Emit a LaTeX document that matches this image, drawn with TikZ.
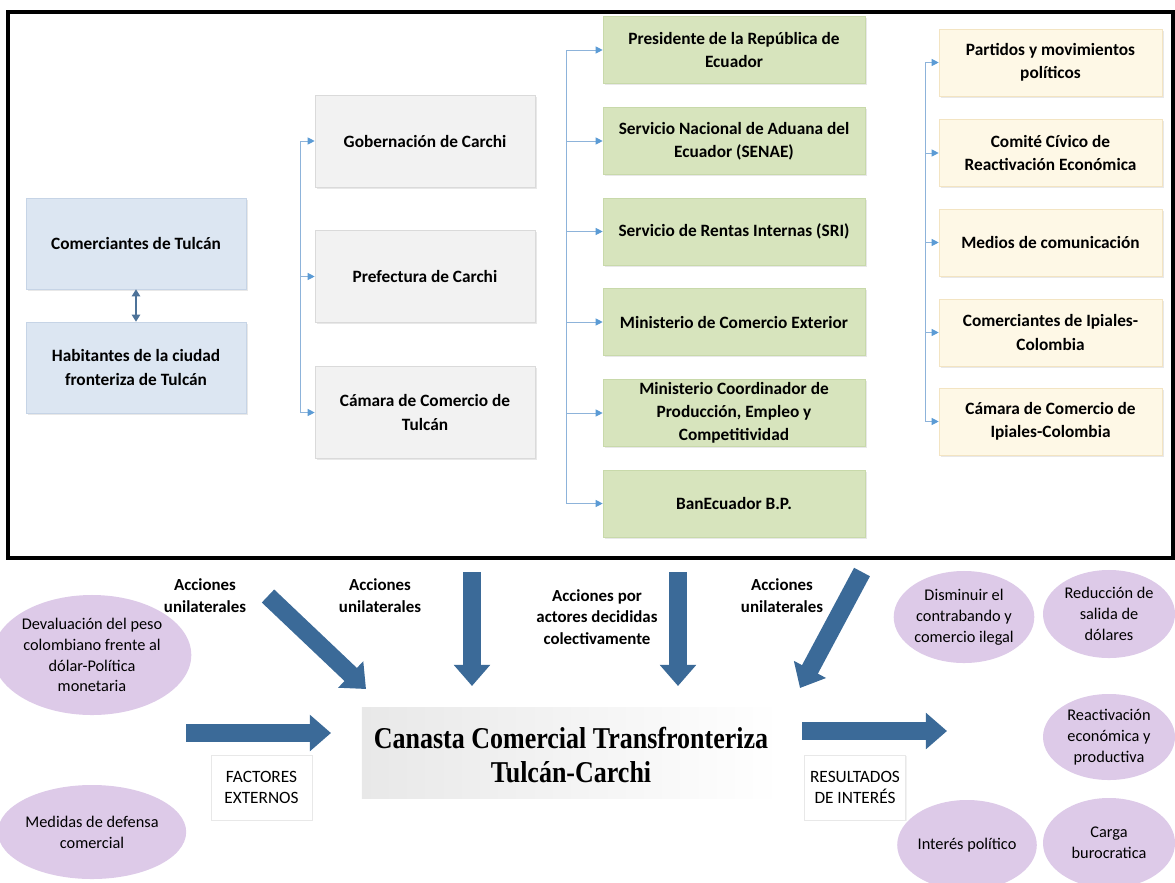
\documentclass[tikz,border=0pt]{standalone}
\usepackage{fontspec}
\setmainfont{Carlito}
\newfontfamily\titulofont[FakeStretch=0.86]{Liberation Serif}
\usepackage{tikz}
\usetikzlibrary{arrows.meta,shapes.geometric,shadows}

\definecolor{azulcaja}{HTML}{DCE6F2}
\definecolor{azulborde}{HTML}{C6D4E6}
\definecolor{griscaja}{HTML}{F2F2F2}
\definecolor{grisborde}{HTML}{DADADA}
\definecolor{verdecaja}{HTML}{D7E4BD}
\definecolor{verdeborde}{HTML}{C8D9AA}
\definecolor{amacaja}{HTML}{FEF8E6}
\definecolor{amaborde}{HTML}{F3E4C2}
\definecolor{lila}{HTML}{DDCAE8}
\definecolor{flechaazul}{HTML}{3B6A98}
\definecolor{lineaazul}{HTML}{8DB3DA}
\definecolor{puntaazul}{HTML}{5B9BD5}
\definecolor{dobleazul}{HTML}{4E7399}

\tikzset{
	caja/.style={draw, align=center, inner sep=0pt, font=\fontsize{12.3}{16.5}\selectfont\bfseries,
		drop shadow={shadow xshift=1.2pt, shadow yshift=-1.2pt, opacity=0.18}},
	cajaazul/.style={caja, fill=azulcaja, draw=azulborde, minimum width=5.5cm, minimum height=2.275cm},
	cajagris/.style={caja, fill=griscaja, draw=grisborde, minimum width=5.5cm, minimum height=2.3cm},
	cajaverde/.style={caja, fill=verdecaja, draw=verdeborde, minimum width=6.55cm, minimum height=1.675cm},
	cajaama/.style={caja, fill=amacaja, draw=amaborde, minimum width=5.575cm, minimum height=1.675cm},
	elip/.style={ellipse, fill=lila, align=center, inner sep=0pt, font=\fontsize{11.6}{14.8}\selectfont},
	etiqueta/.style={align=center, font=\fontsize{12}{15.5}\selectfont\bfseries},
	marcador/.style={draw=gray!18, fill=white, align=center, inner sep=0pt, minimum width=2.525cm, minimum height=1.625cm,
		font=\fontsize{12.3}{14.4}\selectfont, drop shadow={shadow xshift=1pt, shadow yshift=-1pt, opacity=0.1}},
	conector/.style={draw=lineaazul, line width=0.7pt},
	punta/.style={conector, -{Triangle[length=5pt, width=5pt, color=puntaazul]}},
	doble/.style={draw=dobleazul, line width=0.8pt, {Triangle[length=5pt, width=6pt]}-{Triangle[length=5pt, width=6pt]}},
	flecha/.style={draw=flechaazul, line width=12.8pt, -{Triangle[length=15pt, width=25pt]}},
}

\begin{document}
\begin{tikzpicture}[x=0.025cm, y=-0.025cm]
	\useasboundingbox (0,0) rectangle (1175,882);
	\draw[line width=2.2pt] (8,12) rectangle (1173,558);

	% actores locales
	\draw (136,243.5) node[cajaazul] (comer) {Comerciantes de Tulcán};
	\draw (136,367.5) node[cajaazul] (habit) {Habitantes de la ciudad\\fronteriza de Tulcán};
	\draw[doble] (comer.south) -- (habit.north);

	\draw (425,141) node[cajagris] (gob) {Gobernación de Carchi};
	\draw (425,276.5) node[cajagris] (pre) {Prefectura de Carchi};
	\draw (425,412.5) node[cajagris] (cam) {Cámara de Comercio de\\Tulcán};

	% gobierno central
	\draw (734,50) node[cajaverde] (pres) {Presidente de la República de\\Ecuador};
	\draw (734,141) node[cajaverde] (senae) {Servicio Nacional de Aduana del\\Ecuador (SENAE)};
	\draw (734,231.5) node[cajaverde] (sri) {Servicio de Rentas Internas (SRI)};
	\draw (734,322) node[cajaverde] (mce) {Ministerio de Comercio Exterior};
	\draw (734,413) node[cajaverde] (mcpec) {Ministerio Coordinador de\\Producción, Empleo y\\Competitividad};
	\draw (734,503.5) node[cajaverde] (ban) {BanEcuador B.P.};

	% otros actores
	\draw (1050.5,62.5) node[cajaama] (part) {Partidos y movimientos\\políticos};
	\draw (1050.5,153) node[cajaama] (comite) {Comité Cívico de\\Reactivación Económica};
	\draw (1050.5,242.5) node[cajaama] (medios) {Medios de comunicación};
	\draw (1050.5,332.5) node[cajaama] (ipiales) {Comerciantes de Ipiales-\\Colombia};
	\draw (1050.5,421.5) node[cajaama] (camip) {Cámara de Comercio de\\Ipiales-Colombia};

	\coordinate (gx) at (300,0);
	\coordinate (vx) at (566,0);
	\coordinate (ax) at (925,0);
	\draw[conector] (gob.west -| gx) -- (cam.west -| gx);
	\foreach \n in {gob,pre,cam}
		\draw[punta] (\n.west -| gx) -- (\n.west);
	\draw[conector] (pres.west -| vx) -- (ban.west -| vx);
	\foreach \n in {pres,senae,sri,mce,mcpec,ban}
		\draw[punta] (\n.west -| vx) -- (\n.west);
	\draw[conector] (part.west -| ax) -- (camip.west -| ax);
	\foreach \n in {part,comite,medios,ipiales,camip}
		\draw[punta] (\n.west -| ax) -- (\n.west);

	% canasta
	\draw (571,752.5) node[left color=gray!18, right color=white, minimum width=10.45cm, minimum height=2.275cm] (fondo) {};
	\draw (571,755) node[align=center, font=\titulofont\bfseries\fontsize{21.5}{24}\selectfont] (canasta) {Canasta Comercial Transfronteriza\\Tulcán-Carchi};

	\draw (205,596) node[etiqueta] (acc1) {Acciones\\unilaterales};
	\draw (380,596) node[etiqueta] (acc2) {Acciones\\unilaterales};
	\draw (597,617) node[etiqueta] (acc3) {Acciones por\\actores decididas\\colectivamente};
	\draw (782,596) node[etiqueta] (acc4) {Acciones\\unilaterales};

	\coordinate (d1a) at (268,596);
	\coordinate (d1b) at (366,689);
	\coordinate (v1a) at (472,572);
	\coordinate (v1b) at (472,686);
	\coordinate (v2a) at (678,572);
	\coordinate (v2b) at (678,686);
	\coordinate (d2a) at (862,572);
	\coordinate (d2b) at (800,688);
	\coordinate (h1a) at (186,733);
	\coordinate (h1b) at (331,733);
	\coordinate (h2a) at (802,731);
	\coordinate (h2b) at (947,731);
	\draw[flecha] (d1a) -- (d1b);
	\draw[flecha] (v1a) -- (v1b);
	\draw[flecha] (v2a) -- (v2b);
	\draw[flecha] (d2a) -- (d2b);
	\draw[flecha] (h1a) -- (h1b);
	\draw[flecha] (h2a) -- (h2b);

	\draw (261.5,787.5) node[marcador] (factores) {FACTORES\\EXTERNOS};
	\draw (855,787.5) node[marcador] (resultados) {RESULTADOS\\DE INTERÉS};

	% factores externos
	\draw (92,655) node[elip, minimum width=4.45cm, minimum height=3cm] (dev) {Devaluación del peso\\colombiano frente al\\dólar-Política\\monetaria};
	\draw (92,832) node[elip, minimum width=4.45cm, minimum height=2.35cm] (med) {Medidas de defensa\\comercial};

	% resultados
	\draw (964,617) node[elip, minimum width=3.3cm, minimum height=2.3cm] (dis) {Disminuir el\\contrabando y\\comercio ilegal};
	\draw (1109,614) node[elip, minimum width=3.3cm, minimum height=2.2cm] (red) {Reducción de\\salida de\\dólares};
	\draw (1109,737) node[elip, minimum width=3.3cm, minimum height=2.15cm] (rea) {Reactivación\\económica y\\productiva};
	\draw (967,845) node[elip, minimum width=3.3cm, minimum height=2.25cm] (pol) {Interés político};
	\draw (1109,843) node[elip, minimum width=3.3cm, minimum height=2.25cm] (car) {Carga\\burocratica};
\end{tikzpicture}
\end{document}
